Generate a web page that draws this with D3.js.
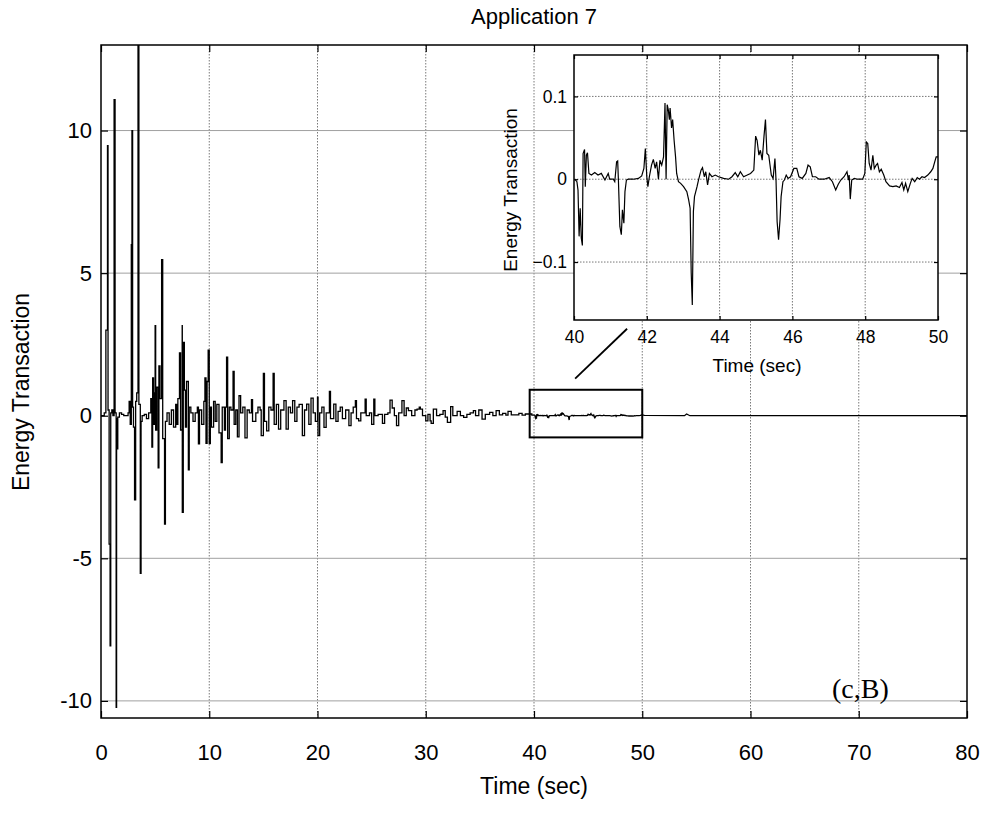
<!DOCTYPE html>
<html><head><meta charset="utf-8">
<script src="https://cdn.jsdelivr.net/npm/d3@7"></script>
<style>
body{margin:0;background:#fff}
svg{display:block}
</style>
</head><body>
<svg id="chart" width="988" height="813"></svg>
<script>
// ---------------- data ----------------
const titleText = "Application 7";
const xLabelText = "Time (sec)";
const yLabelText = "Energy Transaction";
const panelTag = "(c,B)";

const mainXTicks = [0,10,20,30,40,50,60,70,80];
const mainYTicks = [-10,-5,0,5,10];
const insetXTicks = [40,42,44,46,48,50];
const insetYTicks = [-0.1,0,0.1];

// 0 - 40 s
const earlyTime = [0,0.3,0.45,0.6,0.65,0.75,0.84,0.9,1.0,1.1,1.21,1.3,1.4,1.44,1.46,1.55,1.7,1.9,2.1,2.3,2.5,2.6,2.7,2.8,2.86,2.92,3.0,3.1,3.2,3.3,3.42,3.5,3.63,3.7,3.8,4.0,4.2,4.4,4.6,4.7,4.77,4.85,4.95,5.0,5.05,5.15,5.28,5.35,5.45,5.6,5.7,5.87,5.95,6.1,6.3,6.5,6.7,6.9,7.0,7.1,7.25,7.35,7.5,7.51,7.6,7.7,7.8,7.9,8.07,8.15,8.3,8.5,8.7,8.9,9.0,9.1,9.3,9.5,9.6,9.7,9.8,9.9,10.0,10.1,
10.2,10.4,10.55,10.7,10.9,11.1,11.2,11.4,11.5,11.6,11.7,11.85,12.0,12.2,12.3,12.45,12.6,12.75,12.9,13.1,13.3,13.5,13.7,13.9,14.0,14.3,14.5,14.7,14.8,15.0,15.1,15.3,15.5,15.7,15.9,16.0,16.2,16.4,16.6,16.9,17.1,17.3,17.5,17.7,17.9,18.1,18.3,18.6,18.8,19.0,19.2,19.4,19.6,19.8,20.0,20.05,20.2,
20.4,20.6,20.8,21.1,21.2,21.5,21.7,21.9,22.1,22.3,22.6,22.9,23.1,23.3,23.5,23.6,23.8,24.0,24.4,24.5,24.8,25.0,25.2,25.3,25.6,26.0,26.2,26.5,26.7,26.9,27.1,27.3,27.5,27.8,28.0,28.2,28.4,28.7,29.0,29.2,29.4,29.5,29.7,30.0,30.2,30.4,30.5,30.7,31.0,31.3,31.6,31.8,32.0,32.3,32.5,32.9,33.2,33.5,33.8,34.1,34.4,34.6,34.9,35.2,35.5,35.9,36.2,36.5,36.8,37.1,37.4,37.6,37.9,38.3,38.6,38.9,39.2,39.5,39.8];
const earlyValue = [0,0.1,3.0,9.47,0.2,-4.5,-8.07,0.1,0.2,0.0,11.08,0.1,-10.23,-0.1,-1.16,-0.05,0.1,0.05,0.0,0.0,0.1,0.5,-0.3,6.0,10.0,0.3,-0.4,-2.95,0.5,0.8,16,0.4,-5.53,-0.2,0.0,0.05,-0.1,0.1,0.6,-1.1,1.33,-0.3,0.8,3.16,-0.5,1.0,-1.83,1.75,0.6,5.47,-0.8,-3.8,-0.2,0.1,-0.3,0.2,-0.4,0.4,-0.3,0.6,2.2,-0.5,3.16,-3.39,2.57,0.9,-0.4,1.2,-1.9,0.3,0.1,-0.2,0.1,0.3,-0.99,0.2,-0.3,0.5,1.33,-0.97,1.2,2.3,-0.98,0.3,
-0.4,0.5,-0.2,0.4,-0.6,-1.64,0.3,-0.5,0.3,2.05,-0.8,0.3,0.2,1.55,-0.3,0.2,-0.74,0.7,0.1,0.3,-0.78,0.2,0.1,0.56,-0.2,0.1,0.3,0.2,-0.7,1.48,-0.2,-0.53,0.3,0.2,1.48,-0.3,0.4,-0.47,0.2,0.53,-0.47,0.3,0.1,0.53,-0.2,0.3,0.4,-0.7,0.2,0.41,-0.3,0.62,0.1,-0.2,0.65,-0.7,0.1,
0.3,-0.41,0.1,0.85,-0.1,0.41,-0.2,0.15,0.3,-0.1,0.2,-0.35,0.1,0.3,0.53,-0.1,-0.18,0.1,0.58,0,0.1,-0.3,0.58,0.0,0.05,-0.27,0.05,0.1,0.55,0.27,0.0,-0.35,0.1,0.53,0.0,0.27,0.18,0.0,0.2,0.23,0.3,0.23,0.0,-0.18,0.05,-0.18,-0.27,0.23,0.0,0.05,0.18,-0.05,-0.23,0.32,0.0,0.15,0.0,-0.06,0.05,0.1,0.18,0.0,0.2,-0.12,0.05,0.12,0.0,0.18,0.03,0.08,0.02,0.15,0.03,0.03,0.08,0.02,0.06,0.06,0.02];

// 40 - 50 s (shown in the inset)
const insetTime = [40.02,40.08,40.11,40.14,40.17,40.2,40.23,40.25,40.29,40.31,40.34,40.37,40.41,40.48,40.57,40.66,40.75,40.85,40.94,40.98,41.08,41.12,41.17,41.2,41.22,41.26,41.3,41.33,41.37,41.4,41.44,41.49,41.63,41.77,41.86,41.92,41.96,42.0,42.03,42.07,42.13,42.18,42.23,42.27,42.32,42.36,42.41,42.46,42.5,42.53,42.56,42.59,42.62,42.64,42.68,42.71,42.75,42.79,42.82,42.87,42.93,43.01,43.1,43.15,43.19,43.22,43.25,43.28,43.31,43.38,43.42,43.49,43.53,43.58,43.62,43.67,43.72,43.79,43.88,43.97,44.11,44.25,44.34,44.43,44.5,44.57,44.66,44.76,44.85,44.94,44.99,45.03,45.08,45.12,45.17,45.22,45.26,45.3,45.35,45.42,45.47,45.52,45.55,45.58,45.62,45.66,45.69,45.74,45.78,45.83,45.88,45.95,46.04,46.12,46.18,46.27,46.37,46.43,46.49,46.55,46.64,46.73,46.87,47.01,47.1,47.19,47.26,47.33,47.42,47.5,47.54,47.56,47.59,47.63,47.7,47.79,47.93,47.99,48.03,48.07,48.11,48.16,48.21,48.25,48.3,48.34,48.39,48.44,48.51,48.57,48.67,48.76,48.85,48.94,49.01,49.06,49.11,49.17,49.24,49.29,49.36,49.43,49.49,49.56,49.63,49.72,49.8,49.86,49.91,49.95,50.0];
const insetValue = [0,-0.003,-0.013,-0.069,-0.035,-0.071,-0.08,0.031,0.036,-0.009,0.029,0.032,0.007,0.005,0.008,0.005,0.007,-0.001,0.007,0,0,-0.003,0.021,0.022,-0.001,-0.057,-0.067,-0.037,-0.053,-0.015,-0.001,0,0,0.001,0.004,0.013,0.037,0.003,-0.009,0.003,0.017,0.024,0.013,0.021,0,0.023,0.017,0.027,0.092,0,0.09,0.084,0.072,0.086,0.062,0.072,0.047,0.027,0.007,-0.003,-0.005,-0.009,-0.015,-0.025,-0.035,-0.113,-0.152,-0.039,-0.021,-0.009,-0.001,0.011,0.014,0.003,0.009,-0.007,0.007,0.003,0.005,0.003,0.001,0,0.003,0.008,0.003,0.009,0.003,0.005,0.007,0.011,0.052,0.047,0.029,0.035,0.023,0.052,0.072,0.031,0.029,0.005,0.001,0.025,-0.001,-0.051,-0.073,-0.049,-0.021,-0.003,-0.001,0.005,0.001,0.003,0.013,0.013,0.003,0.001,0.007,0.017,0.015,0.003,0.003,0,0,0.002,-0.003,-0.013,-0.006,-0.001,0.003,0.009,-0.001,0.005,-0.024,-0.001,0.001,0,0,0.007,0.045,0.043,0.019,0.011,0.029,0.013,0.017,0.019,0.009,0.012,0.005,-0.003,-0.008,-0.009,-0.008,-0.01,-0.004,-0.013,-0.005,-0.015,-0.005,0.001,-0.003,0.002,0,0.003,0.002,0.005,0.009,0.013,0.021,0.027,0.027];

// 50 - 80 s
const lateTime = [50.2,53.9,54.1,54.4,80];
const lateValue = [0.01,0.0,0.06,0.0,0.0];

// zoom-window annotation (data units of the main axes)
const zoomBoxTime = [39.6,50.0];
const zoomBoxValue = [-0.76,0.91];
const connectorTime = [43.8,48.6];
const connectorValue = [1.3,3.05];

// ---------------- drawing ----------------
const SANS = "'Liberation Sans', Arial, Helvetica, sans-serif";
const SERIF = "'Liberation Serif', 'Times New Roman', serif";
const svg = d3.select("#chart");
const M = {left:101,right:967,top:45,bottom:718};
const I = {left:574,right:938,top:55,bottom:320};

const x = d3.scaleLinear().domain([0,80]).range([M.left,M.right]);
const y = d3.scaleLinear().domain([-10.6,13]).range([M.bottom,M.top]);
const xi = d3.scaleLinear().domain([40,50]).range([I.left,I.right]);
const yi = d3.scaleLinear().domain([-0.17,0.15]).range([I.bottom,I.top]);

const zip = (t,v)=>t.map((d,i)=>[d,v[i]]);
const earlyData = zip(earlyTime,earlyValue);
const insetData = zip(insetTime,insetValue);
const lateData = zip(lateTime,lateValue);

const defs = svg.append("defs");
defs.append("clipPath").attr("id","clipMain").append("rect")
  .attr("x",M.left).attr("y",M.top).attr("width",M.right-M.left).attr("height",M.bottom-M.top);
defs.append("clipPath").attr("id","clipInset").append("rect")
  .attr("x",I.left).attr("y",I.top).attr("width",I.right-I.left).attr("height",I.bottom-I.top);

// main grid
const g = svg.append("g");
g.append("g").selectAll("line").data(mainXTicks.slice(1,-1)).join("line")
  .attr("x1",d=>x(d)).attr("x2",d=>x(d)).attr("y1",M.top).attr("y2",M.bottom)
  .attr("stroke","#7a7a7a").attr("stroke-width",1).attr("stroke-dasharray","1.5,1.5");
g.append("g").selectAll("line").data(mainYTicks.filter(d=>d!==0)).join("line")
  .attr("x1",M.left).attr("x2",M.right).attr("y1",d=>y(d)).attr("y2",d=>y(d))
  .attr("stroke","#a0a0a0").attr("stroke-width",1);

// main series: sampled (step) signal up to 40 s, then the zoomed part and the tail
const mainLine = g.append("g").attr("clip-path","url(#clipMain)");
mainLine.append("path").datum(earlyData.concat([insetData[0]]))
  .attr("d",d3.line().curve(d3.curveStepAfter).x(d=>x(d[0])).y(d=>y(d[1])))
  .attr("fill","none").attr("stroke","#000").attr("stroke-width",1.3);
mainLine.append("path").datum(insetData.concat(lateData))
  .attr("d",d3.line().x(d=>x(d[0])).y(d=>y(d[1])))
  .attr("fill","none").attr("stroke","#000").attr("stroke-width",1.3);

// axes (MATLAB style, ticks inside on all sides)
function boxAxes(sx,sy,xt,yt,B,tick,fs,fmtY,padX,padY,lw){
  const a = svg.append("g");
  a.append("g").attr("transform",`translate(0,${B.bottom})`)
    .call(d3.axisBottom(sx).tickValues(xt).tickSizeInner(-tick).tickSizeOuter(0).tickPadding(padX).tickFormat(d3.format("d")));
  a.append("g").attr("transform",`translate(0,${B.top})`)
    .call(d3.axisTop(sx).tickValues(xt).tickSizeInner(-tick).tickSizeOuter(0).tickFormat(""));
  a.append("g").attr("transform",`translate(${B.left},0)`)
    .call(d3.axisLeft(sy).tickValues(yt).tickSizeInner(-tick).tickSizeOuter(0).tickPadding(padY).tickFormat(fmtY));
  a.append("g").attr("transform",`translate(${B.right},0)`)
    .call(d3.axisRight(sy).tickValues(yt).tickSizeInner(-tick).tickSizeOuter(0).tickFormat(""));
  a.selectAll(".domain").remove();
  a.selectAll(".tick line").attr("stroke","#000").attr("stroke-width",1.2);
  a.selectAll(".tick text").style("font-size",fs+"px").style("font-family",SANS).attr("fill","#000");
  a.append("rect").attr("x",B.left).attr("y",B.top).attr("width",B.right-B.left).attr("height",B.bottom-B.top)
    .attr("fill","none").attr("stroke","#000").attr("stroke-width",lw);
  return a;
}
boxAxes(x,y,mainXTicks,mainYTicks,M,7,22,d=>String(d),26,9,1.5);

// zoom window + connector
svg.append("rect").attr("x",x(zoomBoxTime[0])).attr("y",y(zoomBoxValue[1]))
  .attr("width",x(zoomBoxTime[1])-x(zoomBoxTime[0])).attr("height",y(zoomBoxValue[0])-y(zoomBoxValue[1]))
  .attr("fill","none").attr("stroke","#000").attr("stroke-width",2);
svg.append("line").attr("x1",x(connectorTime[0])).attr("y1",y(connectorValue[0]))
  .attr("x2",x(connectorTime[1])).attr("y2",y(connectorValue[1]))
  .attr("stroke","#000").attr("stroke-width",1.8);

// inset
svg.append("rect").attr("x",I.left).attr("y",I.top).attr("width",I.right-I.left).attr("height",I.bottom-I.top).attr("fill","#fff");
const gi = svg.append("g");
gi.append("g").selectAll("line").data(insetXTicks.slice(1,-1)).join("line")
  .attr("x1",d=>xi(d)).attr("x2",d=>xi(d)).attr("y1",I.top).attr("y2",I.bottom)
  .attr("stroke","#777").attr("stroke-width",1).attr("stroke-dasharray","1.5,1.5");
gi.append("g").selectAll("line").data(insetYTicks).join("line")
  .attr("x1",I.left).attr("x2",I.right).attr("y1",d=>yi(d)).attr("y2",d=>yi(d))
  .attr("stroke","#777").attr("stroke-width",1).attr("stroke-dasharray","1.5,1.5");
gi.append("path").datum(insetData).attr("clip-path","url(#clipInset)")
  .attr("d",d3.line().x(d=>xi(d[0])).y(d=>yi(d[1])))
  .attr("fill","none").attr("stroke","#000").attr("stroke-width",1.2);
boxAxes(xi,yi,insetXTicks,insetYTicks,I,4,17.5,d=>d===0?"0":d3.format(".1f")(d),11,7,1.5);

// labels
function label(t,fs,font){ return svg.append("text").text(t).style("font-size",fs+"px").style("font-family",font).attr("fill","#000"); }
label(titleText,22,SANS).attr("x",534).attr("y",24).attr("text-anchor","middle");
label(xLabelText,23,SANS).attr("x",534).attr("y",794).attr("text-anchor","middle");
label(yLabelText,23,SANS).attr("transform","translate(29,392) rotate(-90)").attr("text-anchor","middle");
label(xLabelText,19,SANS).attr("x",757).attr("y",372).attr("text-anchor","middle");
label(yLabelText,19,SANS).attr("transform","translate(517,190) rotate(-90)").attr("text-anchor","middle");
label(panelTag,28,SERIF).attr("x",832).attr("y",698);
</script>
</body></html>
